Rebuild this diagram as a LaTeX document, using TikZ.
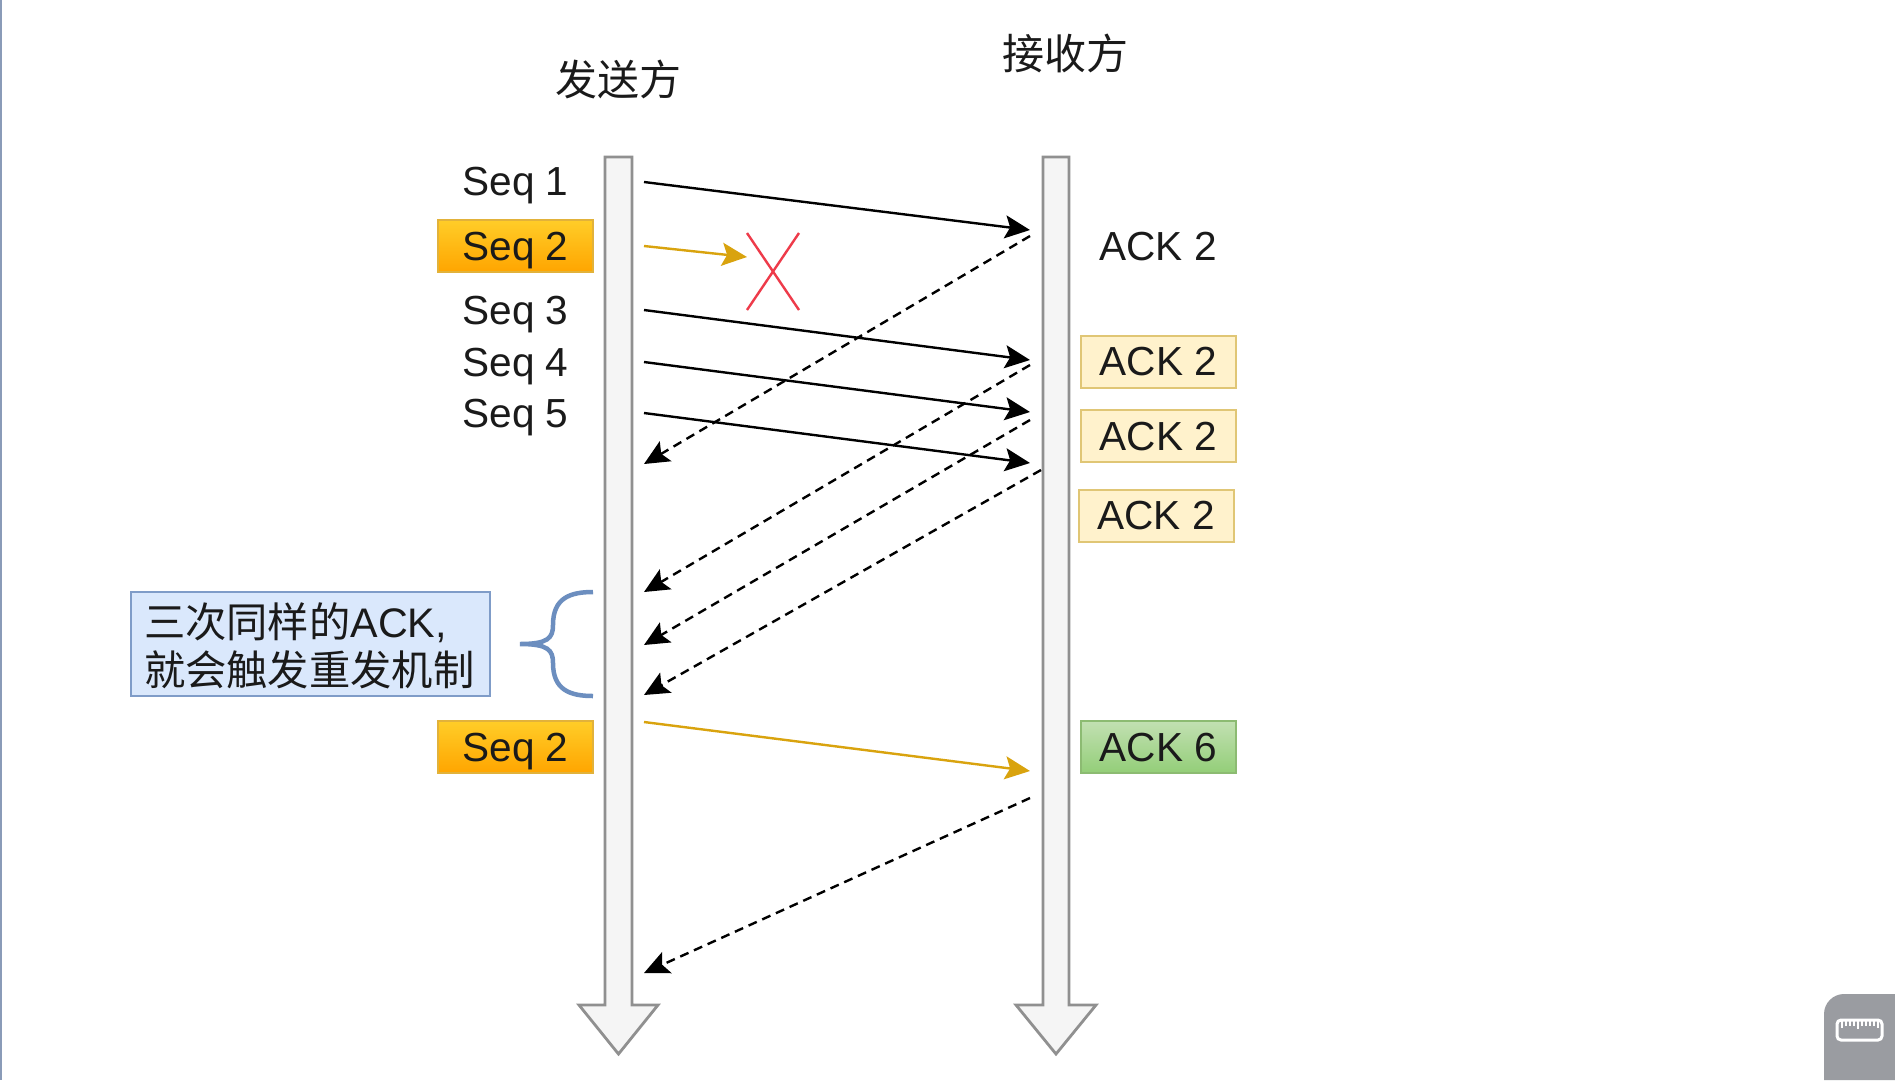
\documentclass[tikz,border=0pt]{standalone}
\usepackage{fontspec}
\setmainfont{Liberation Sans}
\newfontfamily\cjk{Noto Sans CJK SC}
\usetikzlibrary{arrows.meta}
\definecolor{inkc}{HTML}{1A1A1A}
\definecolor{orgtop}{HTML}{FFCD28}
\definecolor{orgbot}{HTML}{FFA500}
\definecolor{orgline}{HTML}{E2B23A}
\definecolor{orgarrow}{HTML}{D9A30E}
\definecolor{ackfill}{HTML}{FFF2CC}
\definecolor{ackline}{HTML}{E0C675}
\definecolor{greentop}{HTML}{C2E0B2}
\definecolor{greenbot}{HTML}{93CE78}
\definecolor{greenline}{HTML}{8CBB72}
\definecolor{bluefill}{HTML}{DAE8FC}
\definecolor{blueline}{HTML}{7F9CC8}
\definecolor{braceline}{HTML}{6C8EBF}
\definecolor{shaftfill}{HTML}{F5F5F5}
\definecolor{shaftline}{HTML}{909090}
\definecolor{widget}{HTML}{9A9CA1}
\definecolor{edgeline}{HTML}{8A9BB8}
\definecolor{crossred}{HTML}{EE3B4A}
\tikzset{
  x=1pt,y=-1pt,
  lab/.style={font=\fontsize{40.6}{46}\selectfont,text=inkc,inner sep=0pt,text height=28pt,text depth=0pt},
  ttl/.style={font=\cjk\fontsize{42}{46}\selectfont,text=inkc,inner sep=0pt},
  boxed/.style={lab,minimum width=155pt,minimum height=52pt,line width=2pt},
  seqbox/.style={boxed,draw=orgline,top color=orgtop,bottom color=orgbot,middle color=orgbot!50!orgtop},
  ackbox/.style={boxed,draw=ackline,fill=ackfill},
  okbox/.style={boxed,draw=greenline,top color=greentop,bottom color=greenbot,middle color=greenbot!50!greentop},
  shaft/.style={draw=shaftline,fill=shaftfill,line width=2.8pt,line join=miter},
  send/.style={draw=black,line width=2.4pt,-{Stealth[length=25pt,width=23pt,inset=5pt]}},
  lost/.style={send,draw=orgarrow},
  reply/.style={send,dash pattern=on 9pt off 6pt},
  cross/.style={draw=crossred,line width=2.4pt},
}
\begin{document}
\begin{tikzpicture}
\useasboundingbox (0,0) rectangle (1895,1080);
\fill[white] (0,0) rectangle (1895,1080);
\fill[edgeline] (0,0) rectangle (2,1080);
% lifelines
\path[shaft] (605,157) -- (632,157) -- (632,1005) -- (658,1005) -- (618.5,1054) -- (579,1005) -- (605,1005) -- cycle;
\path[shaft] (1043,157) -- (1069,157) -- (1069,1005) -- (1096,1005) -- (1056,1054) -- (1016,1005) -- (1043,1005) -- cycle;
% titles
\node[ttl] (sender) at (618.5,79) {发送方};
\node[ttl] (receiver) at (1065.5,53) {接收方};
% left labels
\node[lab] (seq1) at (515.5,181) {Seq 1};
\node[seqbox] (seq2) at (515.5,246) {Seq 2};
\node[lab] (seq3) at (515.5,310) {Seq 3};
\node[lab] (seq4) at (515.5,362) {Seq 4};
\node[lab] (seq5) at (515.5,413) {Seq 5};
\node[seqbox] (seq2b) at (515.5,747) {Seq 2};
% right labels
\node[lab] (ack1) at (1158,246) {ACK 2};
\node[ackbox] (ack2) at (1158.5,361.5) {ACK 2};
\node[ackbox] (ack3) at (1158.5,436) {ACK 2};
\node[ackbox] (ack4) at (1156,515.5) {ACK 2};
\node[okbox] (ack6) at (1158.5,747) {ACK 6};
% note
\node[draw=blueline,fill=bluefill,line width=2pt,text=inkc,inner xsep=13pt,inner ysep=0pt,
  text width=333pt,minimum height=104pt,align=left,font=\fontsize{41.3}{48}\selectfont] (note) at (310.5,644)
  {\rule{0pt}{39pt}{\cjk 三次同样的}ACK,\\{\cjk 就会触发重发机制}};
% brace
\draw[draw=braceline,line width=4.5pt] (593,592) .. controls (570,592) and (553,598) .. (553,625)
  .. controls (553,638) and (548,644) .. (520,644)
  .. controls (548,644) and (553,650) .. (553,663)
  .. controls (553,690) and (570,696) .. (593,696);
% coordinates for the message ends
\coordinate (s1) at (644,182);   \coordinate (r1) at (1030,230);
\coordinate (s2) at (644,246);   \coordinate (x2) at (747,257);
\coordinate (s3) at (644,310);   \coordinate (r3) at (1030,360);
\coordinate (s4) at (644,362);   \coordinate (r4) at (1030,412);
\coordinate (s5) at (644,413);   \coordinate (r5) at (1030,463);
\coordinate (s6) at (644,722);   \coordinate (r6) at (1030,771);
\coordinate (a1) at (1030,236);  \coordinate (b1) at (644,464);
\coordinate (a2) at (1030,365);  \coordinate (b2) at (644,592);
\coordinate (a3) at (1030,420);  \coordinate (b3) at (644,645);
\coordinate (a4) at (1041,470);  \coordinate (b4) at (644,695);
\coordinate (a5) at (1030,798);  \coordinate (b5) at (644,973);
% messages
\draw[send] (s1) -- (r1);
\draw[lost] (s2) -- (x2);
\draw[send] (s3) -- (r3);
\draw[send] (s4) -- (r4);
\draw[send] (s5) -- (r5);
\draw[lost] (s6) -- (r6);
\draw[reply] (a1) -- (b1);
\draw[reply] (a2) -- (b2);
\draw[reply] (a3) -- (b3);
\draw[reply] (a4) -- (b4);
\draw[reply] (a5) -- (b5);
% cross
\draw[cross] (747,233) -- (799,310);
\draw[cross] (799,233) -- (747,310);
% ruler widget
\fill[widget] (1895,1080) -- (1824,1080) -- (1824,1014) .. controls (1824,1003) and (1833,994) .. (1844,994) -- (1895,994) -- cycle;
\draw[white,line width=3pt,rounded corners=4pt] (1837,1020) rectangle (1882,1040);
\foreach \tx/\tl in {1842/7,1846/5,1850/5,1854/5,1858/8,1862/5,1866/5,1870/5,1874/5,1878/7}
  \draw[white,line width=1.2pt] (\tx,1021) -- ++(0,\tl);
\end{tikzpicture}
\end{document}
